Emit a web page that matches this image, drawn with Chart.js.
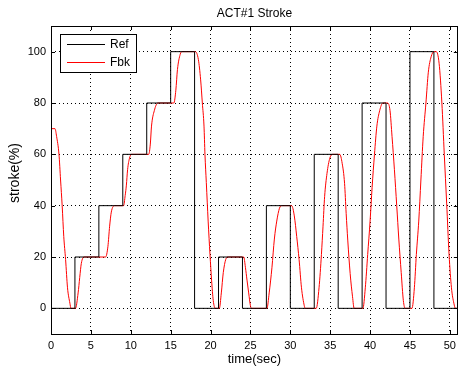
<!DOCTYPE html>
<html>
<head>
<meta charset="utf-8">
<title>ACT#1 Stroke</title>
<script src="https://cdn.jsdelivr.net/npm/chart.js@4.4.1/dist/chart.umd.min.js"></script>
<style>
    html, body { margin: 0; padding: 0; background: #fff; }
    canvas { display: block; }
</style>
</head>
<body>
<canvas id="strokeChart" width="461" height="369"></canvas>
<script>
// Chart data
const chartTitle = 'ACT#1 Stroke';
const xLabel = 'time(sec)';
const yLabel = 'stroke(%)';

const xTicks = [0, 5, 10, 15, 20, 25, 30, 35, 40, 45, 50];
const yTicks = [0, 20, 40, 60, 80, 100];

// Ref: step command, value holds from each time onward
const refTime  = [0, 3, 6, 9, 12, 15, 18, 21, 24, 27, 30, 33, 36, 39, 42, 45, 48, 51];
const refValue = [0, 20, 40, 60, 80, 100, 0, 20, 0, 40, 0, 60, 0, 80, 0, 100, 0, 0];

// Fbk: measured stroke
const fbkTime = [
    0, 0.5, 0.7, 1.0, 1.2, 1.4, 1.6, 1.83, 2.07, 2.37, 2.5,
    3.07, 3.4, 3.6, 3.8, 4.15,
    6.85, 7.13, 7.35, 7.56, 7.97,
    9.1, 9.3, 9.45, 9.6, 9.84, 10.1,
    12.25, 12.45, 12.6, 12.95, 13.4,
    15.4, 15.65, 15.85, 16.2, 16.4,
    18.1, 18.47, 18.76, 18.97, 19.18, 19.3, 19.47, 19.7, 19.93, 20.13, 20.34, 20.6,
    21.1, 21.35, 21.6, 21.9, 22.2,
    24.16, 24.37, 24.57, 24.78, 25.0, 25.1,
    27.07, 27.35, 27.7, 28.0, 28.3, 28.64, 28.9,
    30.17, 30.5, 30.8, 31.1, 31.4, 31.75, 31.85,
    33.25, 33.6, 33.9, 34.1, 34.3, 34.6, 34.95, 35.3,
    36.2, 36.5, 36.8, 37.0, 37.2, 37.5, 37.8, 38.0,
    39.1, 39.4, 39.7, 40.0, 40.25, 40.55, 40.85, 41.2, 41.6,
    42.2, 42.5, 42.75, 43.05, 43.34, 43.6, 43.9, 44.17, 44.4,
    45.25, 45.55, 45.8, 46.1, 46.37, 46.66, 47.0, 47.3, 47.65, 48.0,
    48.3, 48.65, 49.0, 49.3, 49.6, 49.9, 50.2, 50.5, 50.7, 51
];
const fbkValue = [
    70, 70, 67, 60, 50, 40, 28, 19, 8, 2, 0,
    0, 6, 12, 17.5, 20,
    20, 24, 32, 37.5, 40,
    40, 44, 48, 54, 58.5, 60,
    60, 64, 71, 77, 80,
    80, 85, 93, 99, 100,
    100, 97, 89, 80, 71, 60, 49, 34, 21, 11, 3, 0,
    0, 6, 14, 19, 20,
    20, 16, 11, 6, 1, 0,
    0, 6, 16, 27, 34, 39, 40,
    40, 36, 28, 19, 8, 1, 0,
    0, 8, 21, 32, 43.5, 52.6, 58.5, 60,
    60, 56.5, 48.7, 37, 26.6, 13.6, 4.5, 0,
    0, 8, 21, 34, 47, 60, 71, 77, 80,
    80, 77, 67, 54, 40, 27, 14, 3, 0,
    0, 8, 21, 34, 50, 67, 80, 92, 98, 100,
    100, 95.5, 80, 60, 41, 21, 8, 2, 0, 0
];

const FONT = 'Liberation Sans, Arial, Helvetica, sans-serif';

// Box, inward tick marks, title, y label and legend drawn like a MATLAB axes
const matlabFrame = {
    id: 'matlabFrame',
    afterDraw(chart) {
        const { ctx, chartArea: a, scales } = chart;
        ctx.save();

        // inward tick marks on all four sides
        ctx.strokeStyle = '#000';
        ctx.lineWidth = 1;
        ctx.beginPath();
        xTicks.forEach(v => {
            const px = Math.round(scales.x.getPixelForValue(v)) + 0.5;
            ctx.moveTo(px, a.bottom); ctx.lineTo(px, a.bottom - 4);
            ctx.moveTo(px, a.top); ctx.lineTo(px, a.top + 4);
        });
        yTicks.forEach(v => {
            const py = Math.round(scales.y.getPixelForValue(v)) + 0.5;
            ctx.moveTo(a.left, py); ctx.lineTo(a.left + 4, py);
            ctx.moveTo(a.right, py); ctx.lineTo(a.right - 4, py);
        });
        ctx.stroke();

        // axes box
        ctx.strokeRect(Math.round(a.left) + 0.5, Math.round(a.top) + 0.5,
                       Math.round(a.right - a.left) - 1, Math.round(a.bottom - a.top));

        // title
        ctx.fillStyle = '#000';
        ctx.font = '12px ' + FONT;
        ctx.textAlign = 'center';
        ctx.textBaseline = 'middle';
        ctx.fillText(chartTitle, (a.left + a.right) / 2, 13.5);

        // y label, reads bottom to top
        ctx.save();
        ctx.translate(15, 173);
        ctx.rotate(-Math.PI / 2);
        ctx.font = '14px ' + FONT;
        ctx.fillText(yLabel, 0, 0);
        ctx.restore();

        // legend box
        const lx = a.left + 9, ly = a.top + 8, lw = 76, lh = 38;
        ctx.fillStyle = '#fff';
        ctx.fillRect(lx, ly, lw, lh);
        ctx.strokeRect(lx + 0.5, ly + 0.5, lw, lh);
        ctx.font = '12px ' + FONT;
        chart.data.datasets.forEach((ds, i) => {
            const y = ly + 10.5 + i * 18;
            ctx.strokeStyle = ds.borderColor;
            ctx.beginPath();
            ctx.moveTo(lx + 7, y);
            ctx.lineTo(lx + 45, y);
            ctx.stroke();
            ctx.fillStyle = '#000';
            ctx.textAlign = 'left';
            ctx.fillText(ds.label, lx + 50, y);
        });

        ctx.restore();
    }
};

const refPoints = refTime.map((t, i) => ({ x: t, y: refValue[i] }));
const fbkPoints = fbkTime.map((t, i) => ({ x: t, y: fbkValue[i] }));

new Chart(document.getElementById('strokeChart'), {
    type: 'line',
    data: {
        datasets: [
            {
                label: 'Ref',
                data: refPoints,
                borderColor: '#000000',
                borderWidth: 1,
                stepped: 'before',
                pointRadius: 0
            },
            {
                label: 'Fbk',
                data: fbkPoints,
                borderColor: '#ff0000',
                borderWidth: 1,
                cubicInterpolationMode: 'monotone',
                pointRadius: 0
            }
        ]
    },
    options: {
        responsive: false,
        animation: false,
        devicePixelRatio: 1,
        layout: { padding: { top: 26, right: 1, left: 0, bottom: 0 } },
        plugins: {
            legend: { display: false },
            tooltip: { enabled: false },
            title: { display: false }
        },
        scales: {
            x: {
                type: 'linear',
                min: 0,
                max: 51,
                afterBuildTicks: scale => { scale.ticks = xTicks.map(v => ({ value: v })); },
                afterFit: scale => { scale.height = 35; },
                grid: { color: '#000', drawTicks: false },
                border: { display: false, dash: [1, 3] },
                ticks: { color: '#000', padding: 5, maxRotation: 0, font: { family: FONT, size: 11 } },
                title: {
                    display: true,
                    text: xLabel,
                    color: '#000',
                    font: { family: FONT, size: 13 },
                    padding: { top: 0, bottom: 2 }
                }
            },
            y: {
                type: 'linear',
                min: -10,
                max: 110,
                afterBuildTicks: scale => { scale.ticks = yTicks.map(v => ({ value: v })); },
                afterFit: scale => { scale.width = 51; },
                grid: { color: '#000', drawTicks: false },
                border: { display: false, dash: [1, 3] },
                ticks: { color: '#000', padding: 5, font: { family: FONT, size: 11 } }
            }
        }
    },
    plugins: [matlabFrame]
});
</script>
</body>
</html>
